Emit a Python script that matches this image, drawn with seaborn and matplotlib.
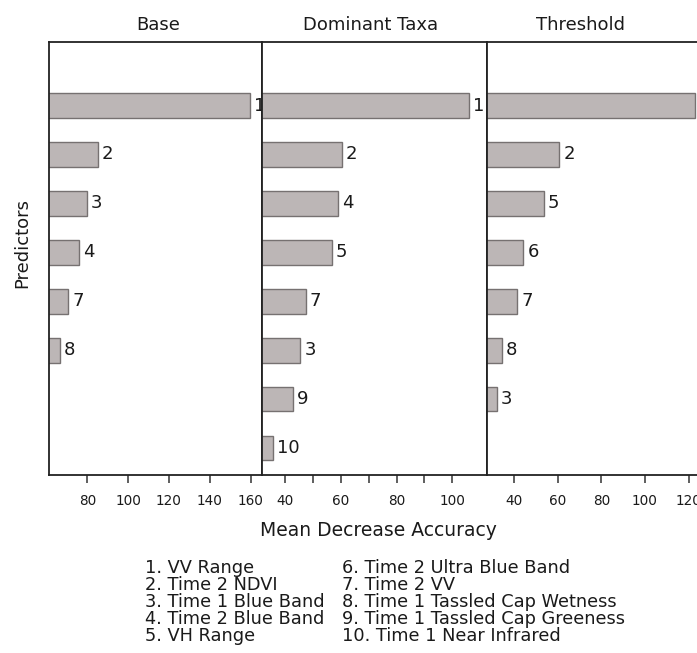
import matplotlib
matplotlib.use("Agg")
import matplotlib.pyplot as plt
import seaborn as sns

# Mean decrease accuracy of the top predictors for each model
base_ids = ["1", "2", "3", "4", "7", "8"]
base_vals = [159.5, 85.1, 79.7, 75.8, 70.7, 66.6]

dom_ids = ["1", "2", "4", "5", "7", "3", "9", "10"]
dom_vals = [105.8, 60.4, 59.0, 56.7, 47.4, 45.5, 42.8, 35.8]

thr_ids = ["1", "2", "5", "6", "7", "8", "3"]
thr_vals = [122.8, 60.8, 53.7, 44.3, 41.4, 34.4, 32.1]

panel_titles = ["Base", "Dominant Taxa", "Threshold"]

predictor_names = [
    "VV Range", "Time 2 NDVI", "Time 1 Blue Band", "Time 2 Blue Band",
    "VH Range", "Time 2 Ultra Blue Band", "Time 2 VV",
    "Time 1 Tassled Cap Wetness", "Time 1 Tassled Cap Greeness",
    "Time 1 Near Infrared",
]

base_ticks = [80, 100, 120, 140, 160]
dom_ticks = [40, 50, 60, 70, 80, 90, 100]
dom_labelled = [40, 60, 80, 100]
thr_ticks = [40, 60, 80, 100, 120]

sns.set_theme(style="white")
plt.rcParams["font.family"] = ["DejaVu Sans"]
plt.rcParams["text.color"] = "#1a1a1a"

W, H = 697, 653
fig = plt.figure(figsize=(W / 100, H / 100), dpi=100)

bar_face = "#bcb6b6"
bar_edge = "#767171"
ink = "#1a1a1a"

top_px, bottom_px = 42, 475
panels = [
    dict(ids=base_ids, vals=base_vals, left=49.3, right=261.7,
         xlim=(61.4, 165.4), ticks=base_ticks, labels=[str(t) for t in base_ticks],
         title_x=158),
    dict(ids=dom_ids, vals=dom_vals, left=262.3, right=486.7,
         xlim=(31.9, 112.3), ticks=dom_ticks,
         labels=[str(t) if t in dom_labelled else "" for t in dom_ticks],
         title_x=371),
    dict(ids=thr_ids, vals=thr_vals, left=486.7, right=710.0,
         xlim=(27.5, 129.8), ticks=thr_ticks, labels=[str(t) for t in thr_ticks],
         title_x=581),
]

for p, title in zip(panels, panel_titles):
    ax = fig.add_axes([p["left"] / W, 1 - bottom_px / H,
                       (p["right"] - p["left"]) / W, (bottom_px - top_px) / H])
    sns.barplot(x=p["vals"], y=p["ids"], orient="h", ax=ax,
                color=bar_face, edgecolor=bar_edge, linewidth=1.0,
                width=0.5, saturation=1)
    ax.bar_label(ax.containers[0], labels=p["ids"], padding=3,
                 fontsize=13, color=ink)
    ax.set_xlim(*p["xlim"])
    ax.set_ylim(7.547, -1.297)
    ax.set_yticks([])
    ax.set_ylabel("")
    ax.set_xlabel("")
    ax.set_xticks(p["ticks"])
    ax.set_xticklabels(p["labels"])
    ax.tick_params(axis="x", bottom=True, direction="out", length=6,
                   width=1.1, color="#333333", pad=8, labelsize=9.8,
                   labelcolor=ink)
    for s in ax.spines.values():
        s.set_visible(True)
        s.set_color("#222222")
        s.set_linewidth(1.3)
    fig.text(p["title_x"] / W, 1 - 25 / H, title, ha="center", va="center",
             fontsize=13, color=ink)

fig.text(378 / W, 1 - 530 / H, "Mean Decrease Accuracy", ha="center",
         va="center", fontsize=13.5, color=ink)
fig.text(22 / W, 1 - 243 / H, "Predictors", rotation=90, ha="center",
         va="center", fontsize=13, color=ink)

# Key to the predictor numbers, in two columns
line_y = [568, 585, 602, 619, 636]
for i, name in enumerate(predictor_names):
    col, row = divmod(i, 5)
    x = 145 if col == 0 else 342
    fig.text(x / W, 1 - line_y[row] / H, f"{i + 1}. {name}", ha="left",
             va="center", fontsize=12.8, color=ink)

fig.savefig("out.png", dpi=100)
